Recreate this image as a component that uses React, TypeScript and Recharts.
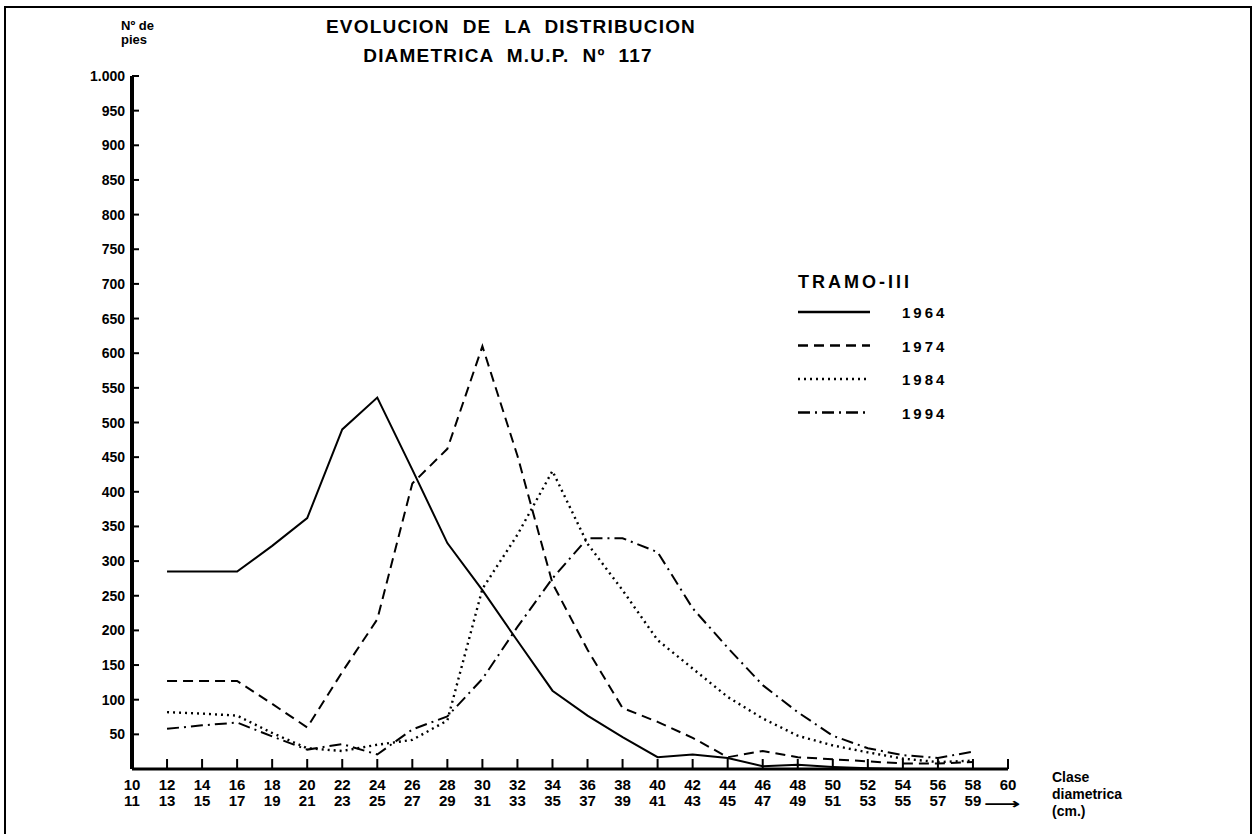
import React from 'react';
import { LineChart, Line, XAxis, YAxis, Legend } from 'recharts';

const CLASSES = [12, 14, 16, 18, 20, 22, 24, 26, 28, 30, 32, 34, 36, 38, 40, 42, 44, 46, 48, 50, 52, 54, 56, 58];
const SERIES_1964 = [285, 285, 285, 322, 362, 490, 536, 432, 326, 258, 185, 113, 77, 46, 17, 21, 16, 4, 6, 3, 1, 0, 0, 0];
const SERIES_1974 = [127, 127, 127, 94, 60, 140, 216, 412, 462, 610, 452, 268, 172, 88, 68, 45, 17, 26, 17, 14, 11, 8, 8, 10];
const SERIES_1984 = [82, 80, 77, 52, 30, 26, 35, 42, 70, 260, 338, 430, 325, 258, 186, 145, 104, 73, 48, 34, 24, 15, 10, 12];
const SERIES_1994 = [58, 63, 67, 47, 28, 36, 21, 57, 76, 130, 205, 275, 333, 333, 313, 232, 175, 121, 82, 48, 30, 20, 16, 25];

const SERIES_NAMES = ['1964', '1974', '1984', '1994'];
const SERIES_DASH = ['', '10 6', '2 4', '12 5 2 5'];
const SERIES_KEYS = ['s1964', 's1974', 's1984', 's1994'];

const X_TICKS = [10, 12, 14, 16, 18, 20, 22, 24, 26, 28, 30, 32, 34, 36, 38, 40, 42, 44, 46, 48, 50, 52, 54, 56, 58, 60];
const X_LABELS_TOP = ['10', '12', '14', '16', '18', '20', '22', '24', '26', '28', '30', '32', '34', '36', '38', '40', '42', '44', '46', '48', '50', '52', '54', '56', '58', '60'];
const X_LABELS_BOTTOM = ['11', '13', '15', '17', '19', '21', '23', '25', '27', '29', '31', '33', '35', '37', '39', '41', '43', '45', '47', '49', '51', '53', '55', '57', '59', '\u27F6'];

const Y_TICKS = [50, 100, 150, 200, 250, 300, 350, 400, 450, 500, 550, 600, 650, 700, 750, 800, 850, 900, 950, 1000];
const Y_LABELS = ['50', '100', '150', '200', '250', '300', '350', '400', '450', '500', '550', '600', '650', '700', '750', '800', '850', '900', '950', '1.000'];

const data = CLASSES.map((c, i) => ({
  cls: c,
  s1964: SERIES_1964[i],
  s1974: SERIES_1974[i],
  s1984: SERIES_1984[i],
  s1994: SERIES_1994[i],
}));

const FONT = '"Liberation Sans", Arial, sans-serif';

const YTick = (props: any) => {
  const { x, y, payload } = props;
  const idx = Y_TICKS.indexOf(payload.value);
  return (
    <g>
      <line x1={x} x2={x + 7} y1={y} y2={y} stroke="#000" strokeWidth={2} />
      <text x={x - 7} y={y} dy={5} textAnchor="end" fontFamily={FONT} fontWeight="bold" fontSize={14} fill="#000">
        {idx >= 0 ? Y_LABELS[idx] : ''}
      </text>
    </g>
  );
};

const XTick = (props: any) => {
  const { x, y, payload } = props;
  const idx = X_TICKS.indexOf(payload.value);
  const isArrow = idx === X_TICKS.length - 1;
  return (
    <g>
      {idx > 0 && <line x1={x} x2={x} y1={y} y2={y - 10} stroke="#000" strokeWidth={2} />}
      <text x={x} y={y + 21} textAnchor="middle" fontFamily={FONT} fontWeight="bold" fontSize={15} fill="#000">
        {X_LABELS_TOP[idx]}
      </text>
      {isArrow ? (
        <text transform={`translate(${x - 6},${y + 40}) scale(1.7,1)`} textAnchor="middle" fontFamily='"DejaVu Sans", sans-serif' fontWeight="bold" fontSize={15} fill="#000">
          {X_LABELS_BOTTOM[idx]}
        </text>
      ) : (
        <text x={x} y={y + 37} textAnchor="middle" fontFamily={FONT} fontWeight="bold" fontSize={15} fill="#000">
          {X_LABELS_BOTTOM[idx]}
        </text>
      )}
    </g>
  );
};

const LegendContent = () => (
  <div style={{ fontFamily: FONT, fontWeight: 'bold', color: '#000' }}>
    <div style={{ fontSize: 18, letterSpacing: 3, height: 24, lineHeight: '24px' }}>TRAMO-III</div>
    <svg width={160} height={130} style={{ display: 'block', marginTop: 8 }}>
      {SERIES_NAMES.map((n, i) => (
        <g key={n}>
          <line x1={0} x2={72} y1={10 + i * 33.5} y2={10 + i * 33.5} stroke="#000" strokeWidth={2.5} strokeDasharray={SERIES_DASH[i] || undefined} />
          <text x={104} y={16 + i * 33.5} fontFamily={FONT} fontWeight="bold" fontSize={15} letterSpacing={3} fill="#000">{n}</text>
        </g>
      ))}
    </svg>
  </div>
);

export default function App() {
  return (
    <div style={{ position: 'absolute', left: 0, top: 0, width: 1259, height: 834, background: '#fff', overflow: 'hidden' }}>
      <div style={{ position: 'absolute', left: 4, top: 6, width: 1248, height: 840, border: '2px solid #000', boxSizing: 'border-box' }} />
      <div style={{ position: 'absolute', left: 0, width: 1022, top: 16, textAlign: 'center', fontFamily: FONT, fontWeight: 'bold', fontSize: 19, letterSpacing: 1.2, whiteSpace: 'pre', color: '#000' }}>
        {'EVOLUCION  DE  LA  DISTRIBUCION'}
      </div>
      <div style={{ position: 'absolute', left: 0, width: 1016, top: 45, textAlign: 'center', fontFamily: FONT, fontWeight: 'bold', fontSize: 19, letterSpacing: 1.2, whiteSpace: 'pre', color: '#000' }}>
        {'DIAMETRICA  M.U.P.  N\u00BA  117'}
      </div>
      <div style={{ position: 'absolute', left: 121, top: 19, fontFamily: FONT, fontWeight: 'bold', fontSize: 13, lineHeight: '14px', color: '#000' }}>
        N{'\u00BA'} de<br />pies
      </div>
      <div style={{ position: 'absolute', left: 1052, top: 769, fontFamily: FONT, fontWeight: 'bold', fontSize: 14, lineHeight: '17px', color: '#000' }}>
        Clase<br />diametrica<br />(cm.)
      </div>
      <LineChart width={1259} height={834} data={data} margin={{ top: 76, right: 251, bottom: 64, left: 131 }}>
        <XAxis
          dataKey="cls"
          type="number"
          domain={[10, 60]}
          ticks={X_TICKS}
          interval={0}
          height={1}
          tickSize={0}
          tickMargin={0}
          tick={<XTick />}
          axisLine={{ stroke: '#000', strokeWidth: 3 }}
          tickLine={false}
          allowDataOverflow
        />
        <YAxis
          type="number"
          domain={[0, 1000]}
          ticks={Y_TICKS}
          interval={0}
          width={1}
          tickSize={0}
          tickMargin={0}
          tick={<YTick />}
          axisLine={{ stroke: '#000', strokeWidth: 4 }}
          tickLine={false}
          allowDataOverflow
        />
        <Legend
          content={<LegendContent />}
          layout="horizontal"
          verticalAlign="middle"
          align="center"
          wrapperStyle={{ position: 'absolute', left: 798, top: 270, width: 200 }}
        />
        {SERIES_KEYS.map((k, i) => (
          <Line
            key={k}
            dataKey={k}
            name={SERIES_NAMES[i]}
            type="linear"
            stroke="#000"
            strokeWidth={i === 2 ? 2.4 : 2}
            strokeDasharray={SERIES_DASH[i] || undefined}
            dot={false}
            activeDot={false}
            isAnimationActive={false}
          />
        ))}
      </LineChart>
    </div>
  );
}
